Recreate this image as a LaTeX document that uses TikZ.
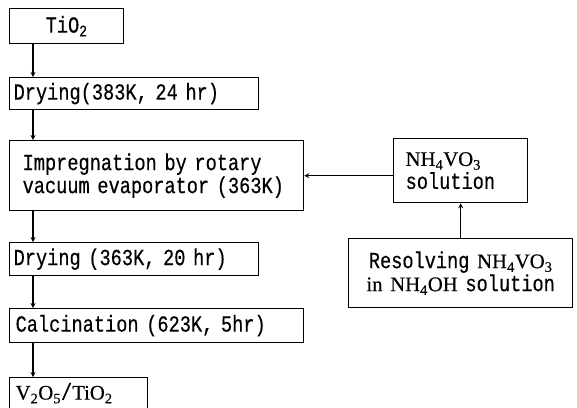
\documentclass[tikz,border=0pt]{standalone}
\usepackage{fontspec}
\setmainfont[FakeStretch=0.81,FakeBold=0.4]{Liberation Mono}
\newfontfamily\chemfont[Scale=0.9,FakeBold=0.4]{Liberation Serif}
\newcommand{\lowsub}[1]{\textsubscript{#1}}
\begin{document}
\begin{tikzpicture}[x=1pt,y=-1pt,>=stealth,
  proc/.style={rectangle,draw=black,line width=1.3pt,anchor=north west,inner xsep=4pt,inner ysep=0pt,align=left,font=\fontsize{23}{23}\selectfont},
  flow/.style={->,line width=1.2pt}]
\useasboundingbox (0,0) rectangle (577,407);
\clip (0,0) rectangle (577,407);
\node[proc,align=center,text width=106pt,minimum height=35pt] (Ti) at (9,8) {TiO\lowsub{2}};
\node[proc,text width=241pt,minimum height=32pt] (DryA) at (9,77) {Drying(383K, 24 hr)};
\node[proc,inner xsep=13pt,text width=268pt,minimum height=70pt] (Imp) at (9,140)
  {Impregnation by rotary\\vacuum evaporator (363K)};
\node[proc,text width=241pt,minimum height=33pt] (DryB) at (9,242) {Drying (363K, 20 hr)};
\node[proc,inner xsep=6pt,text width=282pt,minimum height=34pt] (Calc) at (9,308) {Calcination (623K, 5hr)};
\node[proc,inner xsep=6pt,text width=126pt,minimum height=31pt] (Prod) at (9,377)
  {{\chemfont V\lowsub{2}O\lowsub{5}}/{\chemfont TiO\lowsub{2}}};
\node[proc,inner xsep=12pt,text width=110pt,minimum height=64pt] (Sol) at (393,138)
  {{\chemfont NH\lowsub{4}VO\lowsub{3}}\\solution};
\node[proc,align=center,text width=216pt,minimum height=69pt] (Res) at (348,238)
  {Resolving {\chemfont NH\lowsub{4}VO\lowsub{3}}\\{\chemfont in NH\lowsub{4}OH} solution};
\draw[flow] ([xshift=24pt]Ti.south west) -- ([xshift=24pt]DryA.north west);
\draw[flow] ([xshift=24pt]DryA.south west) -- ([xshift=24pt]Imp.north west);
\draw[flow] ([xshift=24pt]Imp.south west) -- ([xshift=24pt]DryB.north west);
\draw[flow] ([xshift=24pt]DryB.south west) -- ([xshift=24pt]Calc.north west);
\draw[flow] ([xshift=24pt]Calc.south west) -- ([xshift=24pt]Prod.north west);
\draw[flow] (Sol.west |- Imp.east) -- (Imp.east);
\draw[flow] (Res) -- (Sol);
\end{tikzpicture}
\end{document}
